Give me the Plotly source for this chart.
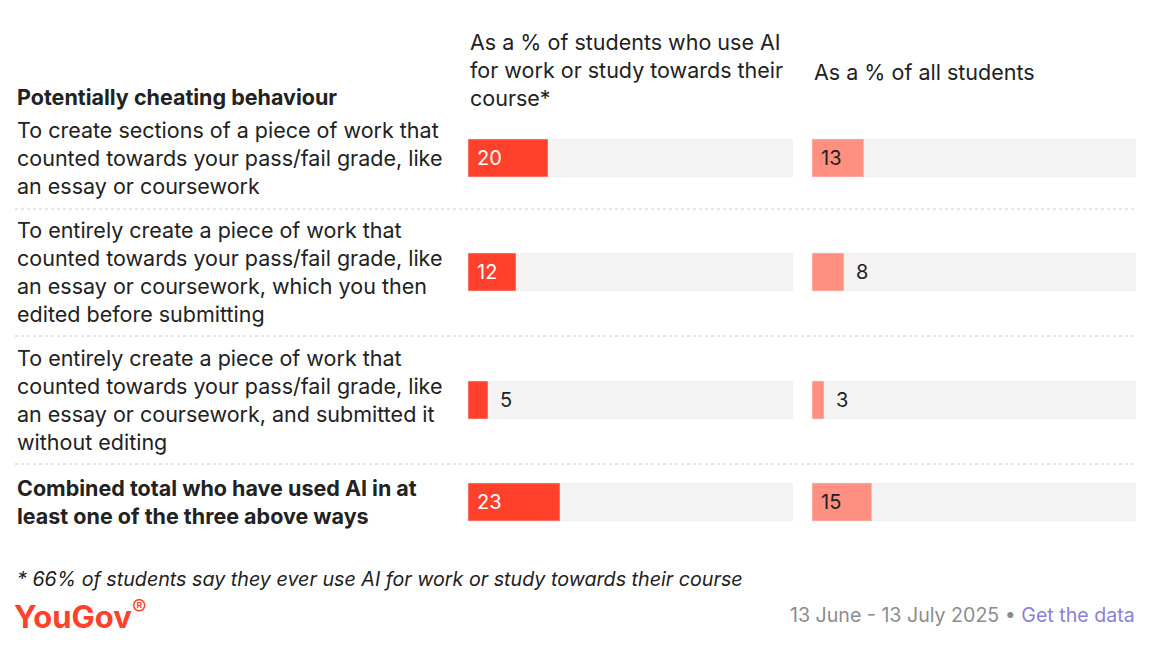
import plotly.graph_objects as go

rows = [
    "To create sections of a piece of work that<br>counted towards your pass/fail grade, like<br>an essay or coursework",
    "To entirely create a piece of work that<br>counted towards your pass/fail grade, like<br>an essay or coursework, which you then<br>edited before submitting",
    "To entirely create a piece of work that<br>counted towards your pass/fail grade, like<br>an essay or coursework, and submitted it<br>without editing",
    "<b>Combined total who have used AI in at<br>least one of the three above ways</b>",
]
ai_users = [20, 12, 5, 23]
all_students = [13, 8, 3, 15]

# layout positions (pixel space, page offset compensated)
OFF = 8
row_y = [158 - OFF, 272 - OFF, 400 - OFF, 502 - OFF]
sep_y = [209 - OFF, 336 - OFF, 464 - OFF]
XMAX = 81.25
FONT = "Inter, Roboto, sans-serif"
W = 1155

fig = go.Figure()
for vals, xa, col in [(ai_users, "x", "#ff412c"), (all_students, "x2", "#ff8f80")]:
    fig.add_trace(go.Bar(x=[XMAX] * len(vals), y=row_y, orientation="h", width=38,
                         marker_color="#f3f3f3", xaxis=xa, yaxis="y", hoverinfo="skip"))
    fig.add_trace(go.Bar(x=vals, y=row_y, orientation="h", width=38,
                         marker_color=col, xaxis=xa, yaxis="y"))
    for v, y in zip(vals, row_y):
        inside = v >= 10
        fig.add_annotation(x=1.8 if inside else v + 2.5, y=y, xref=xa, yref="y",
                           text=str(v), showarrow=False, xanchor="left",
                           font=dict(size=20, color="white" if (inside and xa == "x") else "#222"))


def px_note(x, y, text, size, **kw):
    kw.setdefault("xanchor", "left")
    fig.add_annotation(x=(x - OFF) / W, y=y - OFF, xref="paper", yref="y", text=text,
                       showarrow=False, align="left", font=dict(size=size, **kw.pop("font", {})), **kw)


for y, t in zip(row_y, rows):
    px_note(15, y + OFF, t, 21.5, font=dict(color="#222"))
for s in sep_y:
    fig.add_shape(type="line", x0=(15 - OFF) / W, x1=(1136 - OFF) / W, xref="paper", y0=s, y1=s, yref="y",
                  line=dict(color="#cccccc", width=1, dash="dot"))

px_note(15, 97, "<b>Potentially cheating behaviour</b>", 21.5, font=dict(color="#222"))
px_note(468, 70, "As a % of students who use AI<br>for work or study towards their<br>course*", 21.5,
        font=dict(color="#222"))
px_note(812, 72, "As a % of all students", 21.5, font=dict(color="#222"))
px_note(15, 579, "<i>* 66% of students say they ever use AI for work or study towards their course</i>", 19.7,
        font=dict(color="#222"))
px_note(12, 614, "<b>YouGov</b><sup>®</sup>", 31, font=dict(color="#ff412c"))
px_note(1137, 615,
        "<span style='color:#8c8c8c'>13 June - 13 July 2025 • </span><span style='color:#8c7fd6'>Get the data</span>",
        19.6, xanchor="right")

fig.update_layout(
    width=W, height=651, margin=dict(l=0, r=0, t=0, b=0),
    paper_bgcolor="white", plot_bgcolor="white", barmode="overlay", showlegend=False,
    font=dict(family=FONT),
    xaxis=dict(domain=[(468 - OFF) / W, (793 - OFF) / W], range=[0, XMAX], visible=False, fixedrange=True),
    xaxis2=dict(domain=[(812 - OFF) / W, (1136 - OFF) / W], range=[0, XMAX], visible=False, fixedrange=True),
    yaxis=dict(range=[651, 0], visible=False, domain=[0, 1]),
)
fig.write_html("out.html")
